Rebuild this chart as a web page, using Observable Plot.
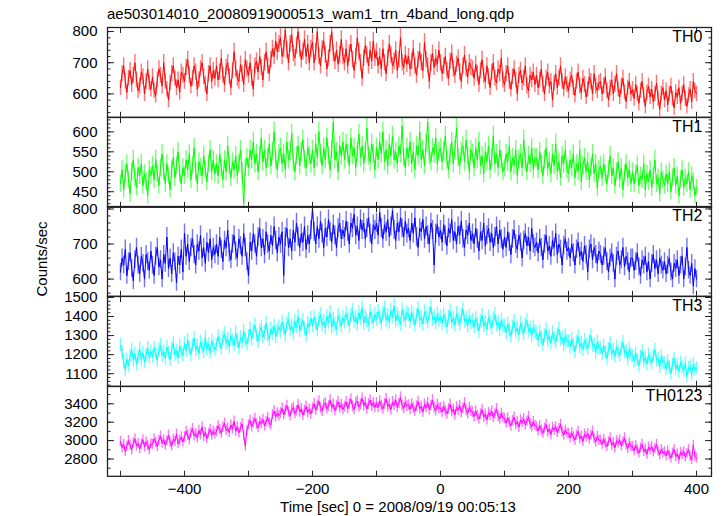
<!DOCTYPE html>
<html><head><meta charset="utf-8">
<script src="https://cdn.jsdelivr.net/npm/d3@7"></script>
<script src="https://cdn.jsdelivr.net/npm/@observablehq/plot@0.6"></script>
<style>
body{margin:0;background:#fff;}
#chart{position:relative;width:722px;height:516px;font-family:"Liberation Sans",Arial,sans-serif;color:#000;overflow:hidden;}
#chart svg{position:absolute;left:0;overflow:visible;}
.t{position:absolute;white-space:nowrap;font-size:15px;line-height:15px;}
</style></head>
<body><div id="chart"></div>
<script>
const titleText = "ae503014010_20080919000513_wam1_trn_4band_long.qdp";
const xLabel = "Time [sec] 0 = 2008/09/19 00:05:13";
const yLabel = "Counts/sec";
const bandNames = ["TH0", "TH1", "TH2", "TH3", "TH0123"];
const bandColors = ["#ff0000", "#00ff00", "#0000ff", "#00ffff", "#ff00ff"];
const time = d3.range(0, 361).map(i => -500 + i * 2.5); // samples every 2.5 s, -500 .. 400

const th0 = [
 620,665,690,640,605,650,675,630,660,700,645,610,625,670,655,600,640,680,635,615,
 655,610,595,645,680,660,625,700,640,615,580,635,665,690,650,620,645,605,670,660,
 640,685,710,660,625,650,690,670,615,645,680,700,655,630,600,665,690,640,675,650,
 690,645,670,715,660,630,685,700,655,620,675,735,680,650,640,695,665,630,710,680,
 660,700,650,615,690,705,670,720,685,645,700,735,690,665,710,745,720,770,735,760,
 780,720,745,805,740,700,760,790,730,715,755,800,745,710,735,775,720,760,700,745,
 765,700,735,800,720,690,745,770,725,680,715,760,800,730,705,740,695,725,775,720,
 700,745,690,730,760,710,675,720,780,735,700,650,715,755,725,690,740,705,770,715,
 735,690,720,680,745,700,665,715,760,725,690,705,740,675,710,780,700,685,725,695,
 720,680,705,745,690,660,710,735,700,675,765,710,690,640,700,730,685,715,695,740,
 700,665,690,720,675,650,705,730,680,660,695,715,670,640,690,725,680,655,700,685,
 680,650,695,665,630,675,710,660,640,690,655,620,670,700,650,635,680,665,715,645,
 630,665,690,640,615,655,680,645,600,660,675,635,650,690,625,610,660,645,670,630,
 660,620,645,680,630,600,650,670,625,640,580,635,665,620,650,690,640,615,655,630,
 610,645,660,620,595,640,670,625,605,650,630,590,615,655,640,600,665,625,610,635,
 640,600,625,655,610,580,620,645,600,630,665,615,590,625,650,605,575,620,640,600,
 615,585,630,600,570,610,640,595,560,605,625,590,615,575,600,635,585,550,600,620,
 580,610,565,600,625,585,555,605,590,620,570,600,630,585,560,595,615,575,640,610,
 600];
const th1 = [
 470,505,455,495,520,480,445,500,530,485,460,510,490,520,465,495,475,440,505,490,
 515,480,530,495,465,510,545,500,470,520,490,455,505,535,485,515,550,495,470,510,
 490,530,505,545,480,515,560,500,470,525,510,490,540,505,475,520,555,500,530,495,
 520,490,545,510,480,530,500,565,515,485,525,505,540,490,520,555,500,420,510,535,
 510,555,530,575,520,545,500,540,585,525,555,510,535,570,515,550,600,530,505,545,
 560,520,545,505,575,530,550,595,525,500,540,565,515,550,580,530,510,560,540,520,
 555,510,570,535,600,545,515,560,530,585,540,505,555,625,530,550,500,565,540,575,
 530,570,545,515,585,540,560,510,550,595,535,565,520,550,610,540,525,570,545,505,
 560,530,575,545,600,525,555,515,570,540,590,530,550,520,565,545,615,535,510,560,
 535,575,520,550,505,565,540,600,530,555,515,570,625,540,525,560,545,585,520,550,
 560,525,550,590,530,505,545,575,520,555,610,535,515,550,565,525,580,540,500,555,
 545,510,560,530,575,515,540,495,550,525,565,505,535,590,520,545,510,555,530,500,
 510,545,525,565,500,535,515,555,490,530,545,510,580,525,500,540,520,560,505,535,
 535,505,550,520,490,530,560,510,525,495,545,515,570,500,525,485,540,520,555,505,
 495,530,510,545,485,520,500,555,475,515,535,500,525,480,510,545,495,520,460,505,
 515,485,520,495,470,505,540,490,510,465,500,525,480,510,455,495,520,485,505,470,
 500,470,495,515,465,490,480,520,455,495,475,505,460,490,530,470,485,445,500,480,
 465,495,470,500,450,485,510,465,490,440,480,505,460,485,470,500,455,490,475,440,
 460];
const th2 = [
 620,660,640,685,610,650,675,630,595,655,690,640,615,665,645,600,670,650,625,680,
 640,610,665,690,635,655,600,670,645,720,630,660,615,675,650,590,665,640,685,620,
 730,665,700,650,690,715,670,640,700,680,725,660,690,645,705,675,715,655,690,670,
 700,665,720,685,650,710,690,740,675,655,700,725,680,660,715,695,665,730,690,650,
 610,705,680,730,700,665,720,745,690,715,670,735,700,680,725,695,750,710,675,720,
 700,735,610,720,745,690,715,680,740,705,760,720,690,730,705,750,685,725,700,740,
 800,735,700,750,715,765,730,690,745,720,770,735,705,755,725,690,745,760,715,740,
 720,765,735,700,760,745,785,725,750,710,770,740,760,715,745,775,730,700,755,740,
 760,725,790,745,715,755,735,770,720,750,795,740,710,760,735,775,745,720,765,730,
 745,710,760,730,775,720,690,745,735,770,715,750,725,700,760,740,640,730,755,720,
 740,705,755,725,695,745,730,770,710,735,700,750,725,765,715,690,740,725,760,710,
 730,700,745,715,680,735,710,760,695,725,745,705,730,690,720,750,700,740,715,685,
 720,690,735,705,670,715,740,700,685,725,705,660,710,730,695,720,680,745,700,690,
 705,675,715,690,655,700,725,680,695,665,710,690,730,670,700,685,640,695,715,680,
 690,660,700,675,640,685,705,665,680,650,695,670,620,685,700,655,690,670,645,680,
 670,640,665,690,650,620,660,675,645,600,665,680,640,655,690,635,665,650,620,660,
 660,625,650,675,635,610,655,640,665,620,650,600,645,670,630,655,615,660,640,625,
 650,615,640,660,620,600,645,630,655,610,640,665,600,635,690,625,610,645,580,630,
 600];
const th3 = [
 1250,1210,1160,1120,1175,1140,1195,1225,1170,1205,1150,1190,1230,1175,1210,1160,1200,1235,1185,1215,
 1190,1235,1205,1170,1225,1250,1195,1215,1180,1240,1210,1175,1230,1260,1200,1220,1185,1245,1215,1195,
 1260,1220,1275,1235,1200,1250,1285,1225,1245,1205,1265,1240,1215,1290,1230,1255,1210,1270,1245,1225,
 1250,1295,1265,1230,1285,1310,1260,1280,1240,1300,1275,1250,1315,1270,1235,1290,1265,1325,1280,1255,
 1295,1335,1280,1320,1355,1300,1270,1325,1345,1290,1315,1365,1305,1280,1335,1310,1350,1295,1325,1345,
 1320,1370,1340,1305,1360,1385,1330,1350,1310,1375,1345,1400,1325,1355,1380,1335,1300,1365,1345,1390,
 1350,1395,1365,1330,1385,1410,1355,1375,1340,1400,1370,1420,1345,1385,1360,1335,1405,1375,1350,1395,
 1370,1415,1385,1350,1405,1430,1375,1395,1360,1420,1390,1445,1365,1400,1380,1355,1425,1395,1370,1410,
 1385,1425,1395,1365,1415,1445,1380,1405,1370,1430,1400,1455,1375,1410,1390,1360,1435,1405,1380,1420,
 1410,1375,1420,1390,1355,1405,1440,1380,1395,1360,1425,1395,1370,1415,1450,1385,1400,1365,1410,1380,
 1400,1365,1410,1380,1345,1395,1430,1370,1390,1355,1415,1385,1360,1405,1440,1375,1390,1350,1400,1370,
 1380,1345,1390,1360,1325,1375,1405,1350,1370,1335,1395,1365,1340,1385,1410,1355,1370,1330,1380,1350,
 1350,1315,1360,1330,1295,1345,1375,1320,1340,1305,1365,1335,1310,1355,1380,1325,1340,1300,1345,1320,
 1310,1275,1320,1290,1250,1300,1330,1275,1295,1260,1315,1285,1265,1305,1335,1280,1290,1250,1300,1270,
 1270,1240,1280,1250,1215,1265,1295,1240,1260,1225,1275,1250,1230,1270,1300,1245,1255,1210,1265,1235,
 1235,1205,1245,1215,1180,1230,1260,1205,1225,1190,1240,1215,1195,1235,1265,1210,1220,1175,1230,1200,
 1195,1165,1205,1175,1140,1190,1220,1165,1185,1150,1200,1175,1155,1195,1225,1170,1180,1135,1190,1160,
 1155,1125,1165,1135,1100,1150,1180,1125,1145,1110,1160,1135,1115,1155,1085,1130,1140,1095,1150,1120,
 1130];
const th0123 = [
 2990,2920,2960,2880,2940,3000,2950,2900,2975,3020,2940,2970,2910,2960,3010,2930,2985,2950,2900,2965,
 2960,3020,2980,2935,3000,3050,2970,3010,2950,2995,3060,2980,2940,3015,2990,3070,2965,3000,3040,2985,
 3040,3100,3060,3010,3085,3130,3050,3075,3030,3110,3065,3150,3045,3090,3020,3080,3120,3060,3100,3070,
 3100,3160,3120,3080,3145,3190,3110,3135,3090,3170,3125,3210,3100,3150,3085,3140,3180,3060,2940,3110,
 3170,3220,3150,3195,3240,3180,3140,3210,3185,3230,3160,3205,3250,3190,3170,3280,3320,3260,3300,3270,
 3300,3350,3280,3330,3380,3310,3270,3340,3360,3295,3325,3390,3310,3345,3275,3330,3370,3305,3340,3290,
 3350,3400,3330,3380,3430,3355,3320,3390,3410,3345,3375,3440,3360,3395,3325,3380,3420,3355,3390,3340,
 3370,3420,3350,3400,3450,3375,3340,3410,3430,3365,3395,3460,3380,3415,3345,3400,3440,3375,3410,3360,
 3410,3360,3430,3380,3345,3400,3455,3370,3395,3335,3420,3385,3440,3360,3405,3470,3380,3350,3415,3375,
 3385,3340,3400,3355,3320,3375,3425,3345,3370,3310,3395,3360,3410,3335,3380,3440,3355,3325,3390,3350,
 3355,3310,3370,3325,3290,3345,3395,3315,3340,3280,3365,3330,3380,3305,3350,3410,3325,3295,3360,3320,
 3310,3260,3320,3270,3235,3290,3335,3255,3285,3225,3305,3275,3320,3250,3290,3345,3265,3235,3295,3250,
 3240,3190,3245,3195,3160,3215,3255,3175,3205,3145,3225,3195,3235,3170,3210,3260,3180,3150,3205,3165,
 3150,3105,3160,3115,3080,3135,3175,3095,3125,3065,3145,3115,3150,3090,3130,3175,3095,3060,3115,3080,
 3075,3030,3085,3040,3005,3060,3100,3020,3050,2990,3070,3040,3075,3015,3055,3100,3020,2985,3045,3005,
 3005,2960,3015,2970,2935,2990,3030,2950,2980,2920,3000,2970,3005,2945,2985,3030,2950,2915,2975,2935,
 2935,2890,2945,2900,2865,2920,2960,2880,2910,2850,2930,2900,2935,2875,2915,2960,2880,2845,2905,2865,
 2880,2835,2890,2845,2810,2865,2905,2825,2855,2795,2875,2845,2880,2820,2860,2905,2825,2790,2950,2830,
 2810];
const series = [th0, th1, th2, th3, th0123];

const yDomains = [[525, 813], [411, 636], [551, 807], [1034, 1505], [2612, 3588]];
const yMajorTicks = [[600, 700, 800], [450, 500, 550, 600], [600, 700, 800], [1100, 1200, 1300, 1400, 1500], [2800, 3000, 3200, 3400]];
const yMinorSteps = [20, 10, 20, 20, 100];
const xDomain = [-520.3, 423.4];
const xTickLabels = [-400, -200, 0, 200, 400];
const xTickMarks = d3.range(-500, 401, 100);

const chart = document.getElementById("chart");
const font = '"Liberation Sans", Arial, sans-serif';
const frameColor = "#222";
const panelTops = [27, 116.7, 206.4, 296, 385.7];
const panelH = 89.8;

series.forEach((vals, k) => {
  const last = k === series.length - 1;
  const data = time.map((t, i) => ({t, v: vals[i], e: Math.sqrt(vals[i])}));
  const [y0, y1] = yDomains[k];
  const step = yMinorSteps[k];
  const minor = d3.range(Math.ceil(y0 / step) * step, y1 + 1e-9, step);
  const mt = 2, mb = last ? 40 : 2;
  const color = bandColors[k];
  const p = Plot.plot({
    width: 722,
    height: panelH + mt + mb,
    marginLeft: 107, marginRight: 11, marginTop: mt, marginBottom: mb,
    x: {domain: xDomain},
    y: {domain: yDomains[k]},
    style: {fontFamily: font, fontSize: "15px", color: "#000", background: "transparent", overflow: "visible"},
    marks: [
      Plot.ruleX(data, {x: "t", y1: d => d.v - d.e, y2: d => d.v + d.e, stroke: color, strokeOpacity: 0.55, strokeWidth: 1.4, clip: true}),
      Plot.line(data, {x: "t", y: "v", stroke: color, strokeWidth: 1, clip: true}),
      Plot.axisY(yMajorTicks[k], {anchor: "left", tickSize: 0, tickPadding: 10, fontSize: 15, label: null, tickFormat: d => String(d)}),
      Plot.axisY(yMajorTicks[k], {anchor: "left", tickSize: -7, fill: "none", stroke: frameColor, label: null}),
      Plot.axisY(minor, {anchor: "left", tickSize: -3.5, fill: "none", stroke: frameColor, label: null}),
      Plot.axisY(yMajorTicks[k], {anchor: "right", tickSize: -7, fill: "none", stroke: frameColor, label: null}),
      Plot.axisY(minor, {anchor: "right", tickSize: -3.5, fill: "none", stroke: frameColor, label: null}),
      Plot.axisX(xTickMarks, {anchor: "top", tickSize: -5, fill: "none", stroke: frameColor, label: null}),
      Plot.axisX(xTickMarks, {anchor: "bottom", tickSize: -5, fill: "none", stroke: frameColor, label: null}),
      last ? Plot.axisX(xTickLabels, {anchor: "bottom", tickSize: 0, tickPadding: 7, fontSize: 15, label: null, tickFormat: d => d < 0 ? "\u2212" + Math.abs(d) : String(d)}) : null,
      Plot.frame({stroke: frameColor, strokeWidth: 1.3}),
      Plot.text([bandNames[k]], {text: d => d, frameAnchor: "top-right", dx: -9, dy: 3, lineAnchor: "top", fontSize: 16, fill: "#000"})
    ]
  });
  p.style.top = (panelTops[k] - mt) + "px";
  chart.appendChild(p);
});

function addText(txt, css) {
  const d = document.createElement("div");
  d.className = "t";
  d.textContent = txt;
  Object.assign(d.style, css);
  chart.appendChild(d);
}
addText(titleText, {left: "107px", top: "6px", fontSize: "15px"});
addText(yLabel, {left: "41px", top: "259px", transform: "translate(-50%,-50%) rotate(-90deg)"});
addText(xLabel, {left: "398px", top: "499px", transform: "translateX(-50%)"});
</script>
</body></html>
